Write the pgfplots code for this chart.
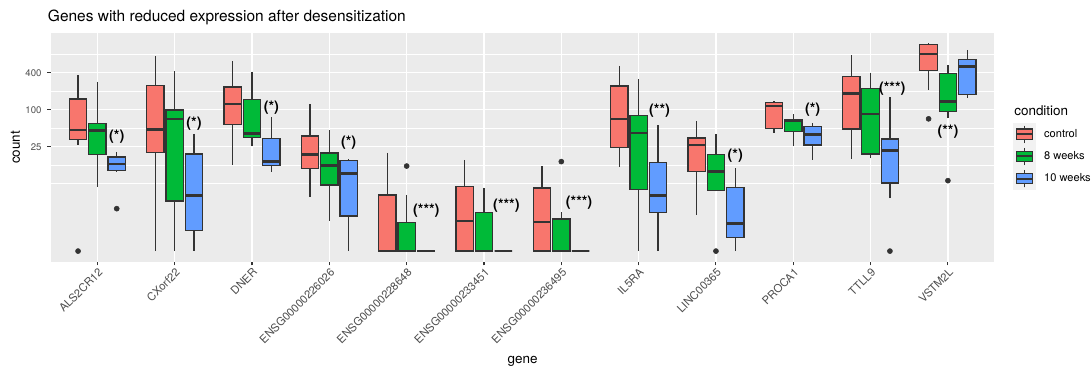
\documentclass[border=0pt]{standalone}
\usepackage{fontspec}
\setmainfont{TeX Gyre Heros}
\usepackage{pgfplots}
\pgfplotsset{compat=1.18}
\usepgfplotslibrary{statistics}
\definecolor{cctrl}{HTML}{F8766D}
\definecolor{cweekA}{HTML}{00BA38}
\definecolor{cweekB}{HTML}{619CFF}
\definecolor{boxline}{HTML}{333333}
\definecolor{panelgrey}{HTML}{EBEBEB}
\definecolor{keygrey}{HTML}{F2F2F2}
\definecolor{labgrey}{HTML}{4D4D4D}
% position, colour, lower whisker, lower quartile, median, upper quartile, upper whisker
\newcommand{\bx}[7]{\addplot[forget plot, fill=#2, draw=boxline, line width=0.9pt,
  boxplot prepared={draw position=#1, lower whisker=#3, lower quartile=#4,
  median=#5, upper quartile=#6, upper whisker=#7}] coordinates {};}
\begin{document}
\begin{tikzpicture}
\begin{axis}[
  scale only axis, width=707.475pt, height=171.525pt,
  at={(0,0)}, anchor=south west,
  xmin=0.4, xmax=12.6,
  ymode=log, ymin=0.336, ymax=1770,
  axis background/.style={fill=panelgrey},
  axis line style={draw=none},
  tick pos=left, tick align=outside,
  major tick length=2.75pt, minor tick length=0pt,
  tick style={draw=boxline, line width=0.8pt},
  xtick={1,...,12},
  xticklabels={ALS2CR12,CXorf22,DNER,ENSG00000226026,ENSG00000228648,ENSG00000233451,ENSG00000236495,IL5RA,LINC00365,PROCA1,TTLL9,VSTM2L},
  ytick={25,100,400}, yticklabels={25,100,400},
  minor ytick={6.25,12.5,50,200,800},
  xmajorgrids=true, ymajorgrids=true, yminorgrids=true,
  major grid style={white, line width=1.1pt},
  minor grid style={white, line width=0.55pt},
  xticklabel style={rotate=45, anchor=north east, inner sep=0pt, font=\fontsize{8.4}{10}\selectfont, text=labgrey},
  yticklabel style={inner sep=0pt, font=\fontsize{7.2}{9}\selectfont, text=labgrey},
  xticklabel shift=1.3pt, yticklabel shift=4.2pt,
  ylabel={count},
  ylabel style={at={(axis description cs:-0.0376,0.5)}, anchor=center, inner sep=0pt, font=\fontsize{10.1}{12}\selectfont},
  xlabel={gene},
  xlabel style={at={(axis description cs:0.5,-0.4473)}, anchor=base, inner sep=0pt, font=\fontsize{10.1}{12}\selectfont},
  boxplot/draw direction=y,
  boxplot/box extend=0.225,
  boxplot/whisker extend=0,
  boxplot/every median/.style={draw=boxline, line width=1.9pt},
  boxplot/every whisker/.style={draw=boxline, line width=0.9pt},
  boxplot/every box/.style={draw=boxline, line width=0.9pt},
  legend image code/.code={
    \fill[keygrey] (0pt,-8.1pt) rectangle (16.1pt,8.1pt);
    \draw[boxline, line width=0.8pt] (8.05pt,-6.5pt) -- (8.05pt,6.5pt);
    \path[draw=boxline, line width=0.8pt, #1] (2.05pt,-4pt) rectangle (14.05pt,4pt);
    \draw[boxline, line width=1.5pt] (2.05pt,0pt) -- (14.05pt,0pt);
  },
  legend style={at={(axis description cs:1.0201,0.6052)}, anchor=north west,
    draw=none, fill=none, inner sep=0pt, outer sep=0pt, row sep=0pt,
    nodes={inner sep=0pt}, font=\fontsize{8.3}{10}\selectfont,
    /tikz/every odd column/.style={column sep=6.7pt}},
  legend cell align=left,
  clip=false,
]
\addlegendimage{fill=cctrl}\addlegendentry{control}
\addlegendimage{fill=cweekA}\addlegendentry{8 weeks}
\addlegendimage{fill=cweekB}\addlegendentry{10 weeks}
% ALS2CR12
\bx{0.75}{cctrl}{26.6}{33}{47}{149}{367}
\bx{1.00}{cweekA}{5.6}{18.8}{45.5}{60}{285}
\bx{1.25}{cweekB}{9.8}{10.3}{13.1}{17}{20.5}
% CXorf22
\bx{1.75}{cctrl}{0.5}{20}{48}{246}{748}
\bx{2.00}{cweekA}{0.5}{3.27}{71}{99}{426}
\bx{2.25}{cweekB}{0.5}{1.07}{4.0}{19}{40.7}
% DNER
\bx{2.75}{cctrl}{12.6}{57}{124}{234}{620}
\bx{3.00}{cweekA}{26}{35.5}{41}{148}{415}
\bx{3.25}{cweekB}{9.8}{12.4}{14.3}{33.7}{75}
% ENSG00000226026
\bx{3.75}{cctrl}{3.85}{11.2}{18.5}{37.3}{124}
\bx{4.00}{cweekA}{1.55}{5.95}{12.4}{19.8}{46.7}
\bx{4.25}{cweekB}{0.5}{1.86}{9.2}{15}{15.8}
% ENSG00000228648
\bx{4.75}{cctrl}{0.5}{0.5}{0.5}{4.1}{20}
\bx{5.00}{cweekA}{0.5}{0.5}{0.5}{1.47}{4.1}
\bx{5.25}{cweekB}{0.5}{0.5}{0.5}{0.5}{0.5}
% ENSG00000233451
\bx{5.75}{cctrl}{0.5}{0.5}{1.55}{5.7}{15.2}
\bx{6.00}{cweekA}{0.5}{0.5}{0.5}{2.14}{5.4}
\bx{6.25}{cweekB}{0.5}{0.5}{0.5}{0.5}{0.5}
% ENSG00000236495
\bx{6.75}{cctrl}{0.5}{0.5}{1.49}{5.3}{12.1}
\bx{7.00}{cweekA}{0.5}{0.5}{0.5}{1.66}{2.14}
\bx{7.25}{cweekB}{0.5}{0.5}{0.5}{0.5}{0.5}
% IL5RA
\bx{7.75}{cctrl}{11.8}{24.4}{70.6}{243}{520}
\bx{8.00}{cweekA}{0.5}{5.0}{42}{80}{312}
\bx{8.25}{cweekB}{0.5}{2.1}{4.0}{13.7}{56}
% LINC00365
\bx{8.75}{cctrl}{1.93}{9.95}{26.6}{34.6}{66}
\bx{9.00}{cweekA}{4.7}{4.9}{9.8}{18.5}{39.8}
\bx{9.25}{cweekB}{0.5}{0.84}{1.4}{5.4}{11.1}
% PROCA1
\bx{9.75}{cctrl}{42}{50}{115}{132}{139}
\bx{10.00}{cweekA}{26}{44.5}{66}{70}{85}
\bx{10.25}{cweekB}{15.2}{26.6}{39.8}{52.9}{60.7}
% TTLL9
\bx{10.75}{cctrl}{15.8}{48.5}{182}{344}{776}
\bx{11.00}{cweekA}{16.2}{19}{85}{223}{400}
\bx{11.25}{cweekB}{3.6}{6.4}{21.5}{33.4}{161}
% VSTM2L
\bx{11.75}{cctrl}{209}{438}{806}{1142}{1204}
\bx{12.00}{cweekA}{72}{94}{137}{391}{528}
\bx{12.25}{cweekB}{155}{175}{501}{661}{936}
% outliers
\addplot[forget plot, only marks, mark=*, mark size=1.9pt, color=boxline] coordinates {
 (0.75,0.5) (1.25,2.45) (5,12.1) (7,14.3) (9,0.5) (11.25,0.5) (11.75,71) (12,7.0)};
% significance labels
\begin{scope}[every node/.style={font=\bfseries\fontsize{10.8}{12}\selectfont, inner sep=0pt}]
\node at (axis cs:1.25,36) {(*)};
\node at (axis cs:2.25,60) {(*)};
\node at (axis cs:3.25,108) {(*)};
\node at (axis cs:4.25,29.5) {(*)};
\node at (axis cs:5.254,2.3) {(***)};
\node at (axis cs:6.29,2.74) {(***)};
\node at (axis cs:7.23,3.07) {(***)};
\node at (axis cs:8.27,98) {(**)};
\node at (axis cs:9.25,18.1) {(*)};
\node at (axis cs:10.25,99) {(*)};
\node at (axis cs:11.28,223) {(***)};
\node at (axis cs:12,44.5) {(**)};
\end{scope}
\node[anchor=west, inner sep=0pt, font=\fontsize{10.1}{12}\selectfont] at (axis description cs:1.0209,0.6603) {condition};
\node[anchor=base west, inner sep=0pt, font=\fontsize{11.6}{14}\selectfont] at (axis description cs:-0.0035,1.0481) {Genes with reduced expression after desensitization};
\end{axis}
\pgfresetboundingbox
\path (-38.25pt,-78.975pt) rectangle (780.75pt,196.275pt);
\end{tikzpicture}
\end{document}
